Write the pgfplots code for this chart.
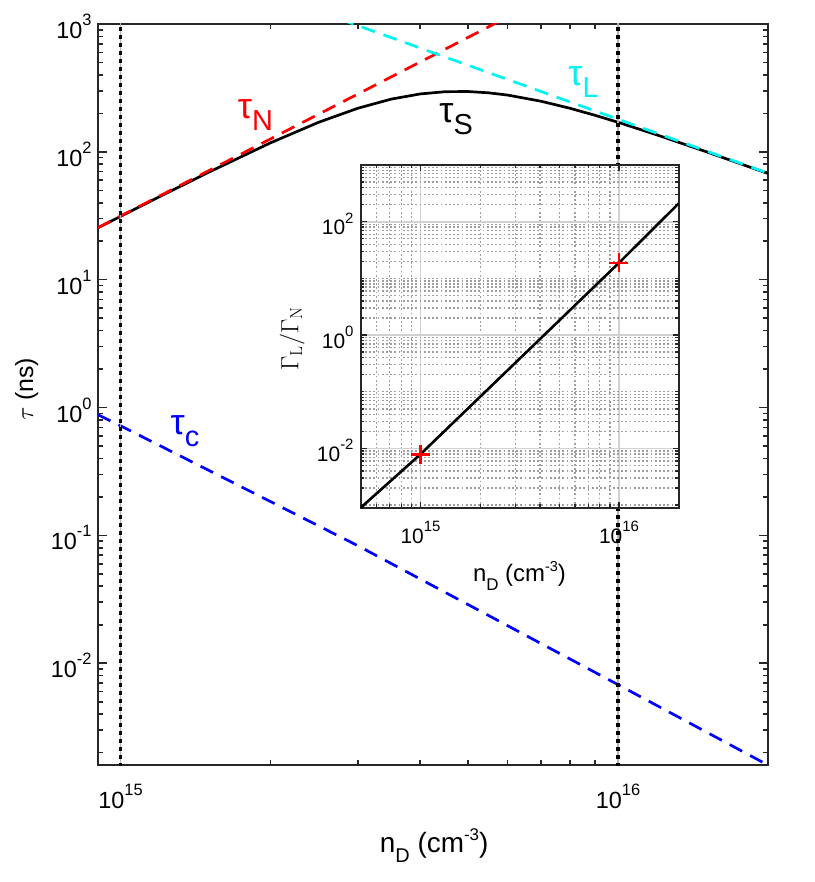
\documentclass[border=0pt]{standalone}
\usepackage[no-math]{fontspec}
\setmainfont{Liberation Sans}
\usepackage{pgfplots}
\pgfplotsset{compat=1.18}

\definecolor{axgray}{rgb}{0.15,0.15,0.15}
\definecolor{mycyan}{rgb}{0,0.95,0.95}

% size, raise, text
\newcommand{\sups}[3]{\raisebox{#2}{\fontsize{#1}{#1}\selectfont #3}}
\newcommand{\taul}[1]{{\fontsize{36}{36}\selectfont τ}\sups{29}{-12bp}{#1}}
\newcommand{\ma}[1]{10\sups{16.5}{13bp}{#1}}
\newcommand{\ia}[1]{10\sups{15}{11.5bp}{#1}}

\pgfplotstableread{
n        tauS
9e14     25.39
1e15     31.28
1.2e15   44.78
1.5e15   68.97
2e15     117.4
2.5e15   170.2
3e15     219.4
3.5e15   258.5
4e15     283.7
4.5e15   295.6
5e15     296.3
5.5e15   289.4
6e15     277.9
7e15     248.9
8e15     219.3
9e15     192.9
1e16     170.3
1.2e16   135.3
1.5e16   100.6
2e16     67.8
}\tauS

\pgfplotstableread{
n        tauN
9e14     25.5
1e15     31.5
2e15     126
3e15     283.5
4e15     504
5e15     787.5
6e15     1134
}\tauN

\pgfplotstableread{
n        tauL
2.5e15   1254
3e15     971
4e15     649
5e15     475
6e15     368
8e15     246
1e16     180
1.5e16   102
2e16     68.2
}\tauL

\pgfplotstableread{
n        tauC
9e14     0.88
1e15     0.72
3e15     0.083
1e16     0.0068
2e16     0.0016
}\tauC

\pgfplotstableread{
n        ratio
5e14     9e-4
1e15     7.9e-3
4e15     0.85
1e16     18.8
2e16     210
}\ratio

\begin{document}
\begin{tikzpicture}
\useasboundingbox (-97.7bp,-117bp) rectangle (717.3bp,765bp);
\begin{axis}[
  at={(0,0)}, anchor=south west,
  scale only axis, width=670bp, height=741bp,
  xmode=log, ymode=log,
  xmin=9e14, xmax=2e16, ymin=1.6e-3, ymax=1e3,
  axis line style={draw=axgray, line width=2.2bp},
  tick style={draw=axgray, line width=1.6bp},
  major tick length=9bp, minor tick length=5bp,
  tick align=inside, tickpos=both,
  xtick={1e15,1e16},
  xticklabels={\ma{15},\ma{16}},
  minor xtick={2e15,3e15,4e15,5e15,6e15,7e15,8e15,9e15,2e16},
  ytick={1e-2,1e-1,1,1e1,1e2,1e3},
  yticklabels={\ma{-2},\ma{-1},\ma{0},\ma{1},\ma{2},\ma{3}},
  minor ytick={2e-3,3e-3,4e-3,5e-3,6e-3,7e-3,8e-3,9e-3,
               2e-2,3e-2,4e-2,5e-2,6e-2,7e-2,8e-2,9e-2,
               2e-1,3e-1,4e-1,5e-1,6e-1,7e-1,8e-1,9e-1,
               2,3,4,5,6,7,8,9,20,30,40,50,60,70,80,90,
               200,300,400,500,600,700,800,900},
  xticklabel style={anchor=base, inner sep=0pt, yshift=-43bp, font=\fontsize{23.5}{23.5}\selectfont},
  yticklabel style={anchor=base east, inner sep=0pt, xshift=-6bp, yshift=-14.5bp, font=\fontsize{23.5}{23.5}\selectfont},
  xlabel={n\sups{20}{-10bp}{D} (cm\sups{17}{12.7bp}{-3})},
  xlabel style={at={(axis description cs:0.502,-0.1184)}, anchor=base, inner sep=0pt, font=\fontsize{28}{28}\selectfont},
  ylabel={{\fontsize{31}{31}\selectfont$\tau$} (ns)},
  ylabel style={at={(axis description cs:-0.0966,0.507)}, anchor=base, inner sep=0pt, font=\fontsize{25}{25}\selectfont},
]
\addplot[black, line width=2.7bp] table[x=n, y=tauS] {\tauS};
\addplot[red, line width=2.7bp, dash pattern=on 14bp off 9bp] table[x=n, y=tauN] {\tauN};
\addplot[mycyan, line width=2.7bp, dash pattern=on 14bp off 9bp] table[x=n, y=tauL] {\tauL};
\addplot[blue, line width=2.7bp, dash pattern=on 14bp off 9bp] table[x=n, y=tauC] {\tauC};
\addplot[black!30, line width=1.5bp] coordinates {(1e15,1e-4) (1e15,1e4)};
\addplot[black!30, line width=1.5bp] coordinates {(1e16,1e-4) (1e16,1e4)};
\addplot[black, line width=3.6bp, dash pattern=on 3.6bp off 4.4bp] coordinates {(1e15,1e-4) (1e15,1e4)};
\addplot[black, line width=3.6bp, dash pattern=on 3.6bp off 4.4bp] coordinates {(1e16,1e-4) (1e16,1e4)};
\node[anchor=base west, inner sep=0pt, text=red] at (axis cs:1.72e15,183) {\taul{N}};
\node[anchor=base west, inner sep=0pt, text=black] at (axis cs:4.37e15,169) {\taul{S}};
\node[anchor=base west, inner sep=0pt, text=mycyan] at (axis cs:7.94e15,333) {\taul{L}};
\node[anchor=base west, inner sep=0pt, text=blue] at (axis cs:1.26e15,0.618) {\taul{c}};
\end{axis}

\begin{axis}[
  at={(263bp,257.3bp)}, anchor=south west,
  scale only axis, width=318bp, height=342.7bp,
  xmode=log, ymode=log,
  xmin=5e14, xmax=2e16, ymin=9e-4, ymax=1e3,
  axis background/.style={fill=white},
  axis line style={draw=axgray, line width=2.2bp},
  tick style={draw=axgray, line width=1.4bp},
  major tick length=6bp, minor tick length=3.5bp,
  tick align=inside, tickpos=both,
  grid=both,
  major grid style={draw=black!18, line width=1.8bp, solid},
  minor grid style={draw=black!38, line width=1.4bp, dash pattern=on 1.8bp off 2.4bp},
  xtick={1e15,1e16},
  xticklabels={\ia{15},\ia{16}},
  minor xtick={6e14,7e14,8e14,9e14,2e15,3e15,4e15,5e15,6e15,7e15,8e15,9e15,2e16},
  ytick={1e-2,1,1e2},
  yticklabels={\ia{-2},\ia{0},\ia{2}},
  minor ytick={1e-3,2e-3,3e-3,4e-3,5e-3,6e-3,7e-3,8e-3,9e-3,
               2e-2,3e-2,4e-2,5e-2,6e-2,7e-2,8e-2,9e-2,
               1e-1,2e-1,3e-1,4e-1,5e-1,6e-1,7e-1,8e-1,9e-1,
               2,3,4,5,6,7,8,9,10,20,30,40,50,60,70,80,90,
               200,300,400,500,600,700,800,900,1000},
  xticklabel style={anchor=base, inner sep=0pt, yshift=-35.6bp, font=\fontsize{21}{21}\selectfont},
  yticklabel style={anchor=base east, inner sep=0pt, xshift=-7bp, yshift=-13bp, font=\fontsize{21}{21}\selectfont},
  xlabel={n\sups{17}{-9bp}{D} (cm\sups{14.5}{10.7bp}{-3})},
  xlabel style={at={(axis description cs:0.499,-0.216)}, anchor=base, inner sep=0pt, font=\fontsize{24}{24}\selectfont},
  ylabel={$\Gamma_{\mathrm{L}}/\Gamma_{\mathrm{N}}$},
  ylabel style={at={(axis description cs:-0.196,0.493)}, anchor=base, inner sep=0pt, font=\fontsize{24}{24}\selectfont},
]
\addplot[black, line width=2.6bp] table[x=n, y=ratio] {\ratio};
\addplot[red, only marks, mark=+, mark size=9.5bp, line width=2.6bp] coordinates {(1e15,7.9e-3) (1e16,18.8)};
\end{axis}
\end{tikzpicture}
\end{document}
